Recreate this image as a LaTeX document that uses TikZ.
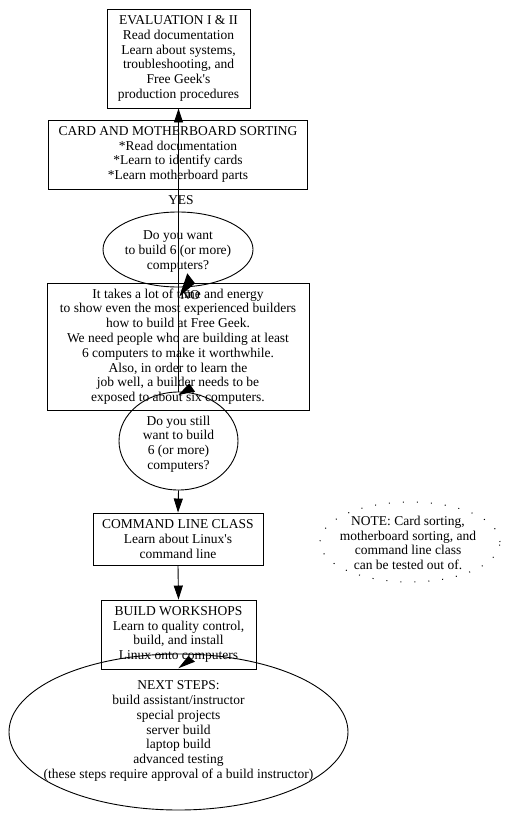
\documentclass[tikz,border=0pt]{standalone}
\usepackage{fontspec}
\setmainfont{Liberation Serif}
\usetikzlibrary{shapes.geometric,arrows.meta}
\begin{document}
\begin{tikzpicture}[x=1pt,y=-1pt,line width=0.9pt,
  every node/.style={font=\fontsize{13.5}{14.8}\selectfont,align=center,inner sep=0pt},
  boxnode/.style={draw,rectangle},
  ovalnode/.style={draw,ellipse,inner sep=0pt},
  dotoval/.style={draw,ellipse,inner sep=0pt,line width=1pt,dash pattern=on 1pt off 13pt},
  flow/.style={-{Triangle[length=14pt,width=9pt]}},
  headfill/.style={fill=black,draw=none}]
\useasboundingbox (0,0) rectangle (512,819);

\node[boxnode,minimum width=143pt,minimum height=99pt] (eval) at (178.5,58.5)
  {EVALUATION I \& II\\Read documentation\\Learn about systems,\\troubleshooting, and\\Free Geek\textquotesingle s\\production procedures};
\node[boxnode,minimum width=259pt,minimum height=69pt] (card) at (178,154.5)
  {CARD AND MOTHERBOARD SORTING\\*Read documentation\\*Learn to identify cards\\*Learn motherboard parts};
\node (yes) at (181,200) {YES};
\node[ovalnode,minimum width=150pt,minimum height=75pt] (q1) at (178,249.5) {};
\node (q1t) at (178,251.5) {Do you want\\to build 6 (or more)\\computers?};
\node[boxnode,minimum width=262pt,minimum height=127pt] (info) at (178,346.5)
  {It takes a lot of time and energy\\to show even the most experienced builders\\how to build  at Free Geek.\\We need people who are building at least\\6 computers to make it worthwhile.\\Also, in order to learn the\\job well, a builder needs to be\\exposed to about six computers.};
\node (no) at (190,295) {NO};
\node[ovalnode,minimum width=119pt,minimum height=98pt] (q2) at (178.5,441) {};
\node (q2t) at (178.5,444) {Do you still\\want to build\\6 (or more)\\computers?};
\node[boxnode,minimum width=170pt,minimum height=52pt] (cmd) at (178,539)
  {COMMAND LINE CLASS\\Learn about Linux\textquotesingle s\\command line};
\node[boxnode,minimum width=155pt,minimum height=69pt] (build) at (178.5,634.5)
  {BUILD WORKSHOPS\\Learn to quality control,\\build, and install\\Linux onto computers};
\node[ovalnode,minimum width=339pt,minimum height=156pt] (next) at (178.5,732) {};
\node (nextt) at (178.5,731) {NEXT STEPS:\\build assistant/instructor\\special projects\\server build\\laptop build\\advanced testing\\(these steps require approval of a build instructor)};
\node[dotoval,minimum width=180pt,minimum height=80pt] (note) at (410,542) {};
\node (notet) at (408,543) {NOTE: Card sorting,\\motherboard sorting, and\\command line class\\can be tested out of.};

\draw[flow] (q2.north) -- (eval.south);
\draw[flow] (q2.south) -- (cmd.north);
\draw[flow] (cmd.south) -- (build.north);

\coordinate (tipa) at (179.3,296.7);
\coordinate (tipb) at (178.3,395);
\coordinate (tipc) at (178.3,668.3);
\fill[headfill] (tipa) -- (187.3,273.3) -- (195,283.3) -- cycle;
\fill[headfill] (tipb) -- (189.3,383.3) -- (195,391.7) -- cycle;
\fill[headfill] (tipc) -- (188.3,656) -- (195,661.7) -- cycle;
\end{tikzpicture}
\end{document}
